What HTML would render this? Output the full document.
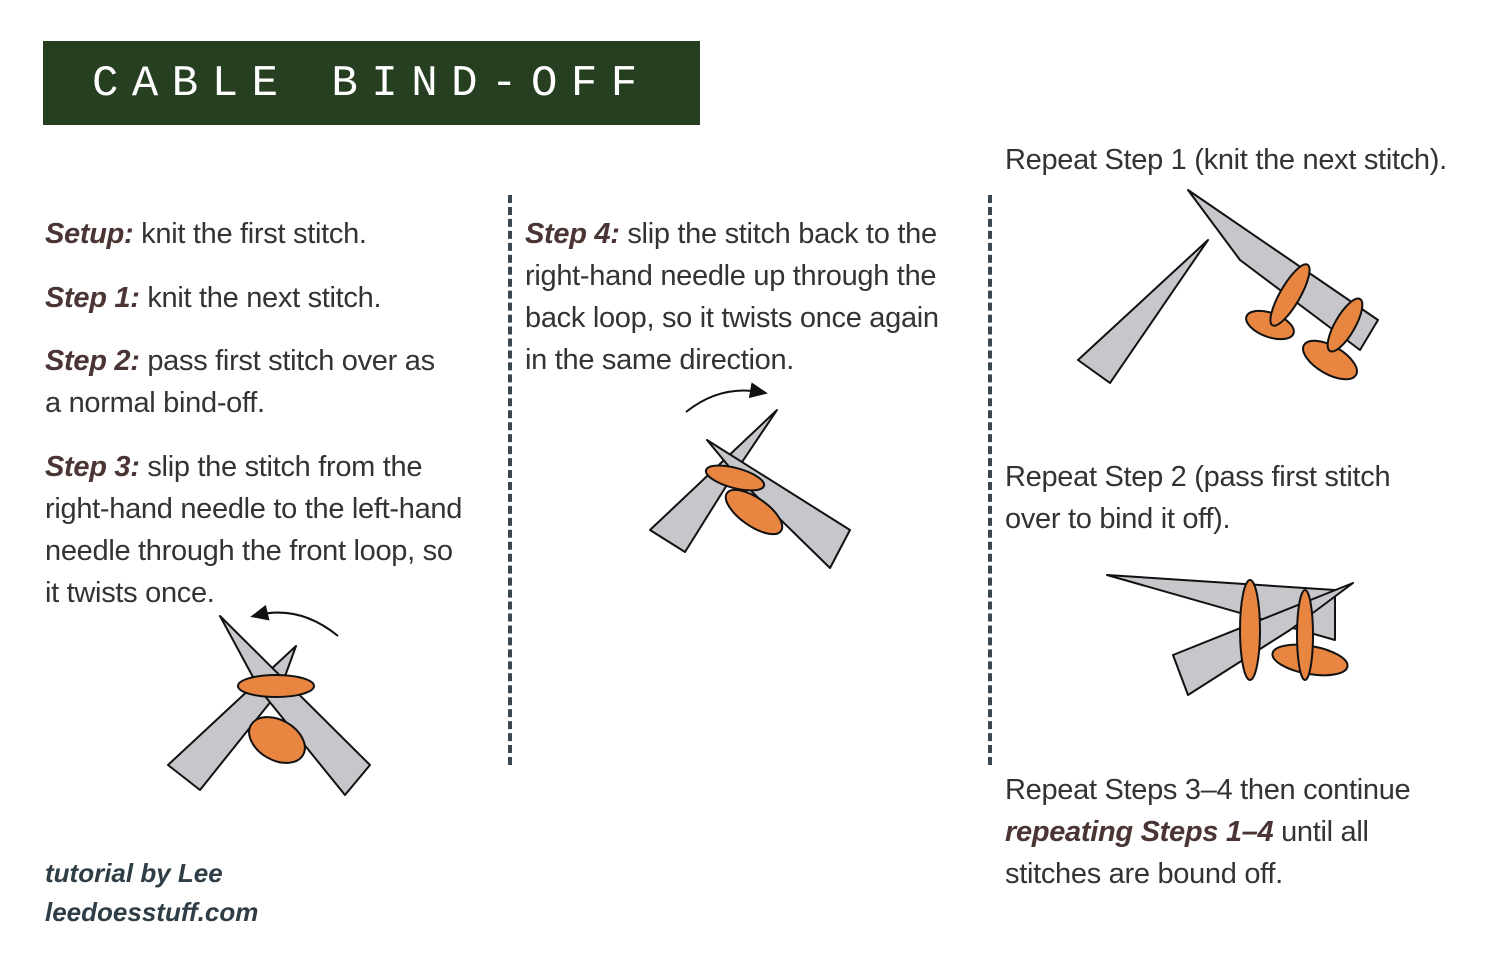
<!DOCTYPE html>
<html><head><meta charset="utf-8"><style>
body{margin:0;width:1500px;height:970px;background:#fff;position:relative;overflow:hidden;font-family:"Liberation Sans",sans-serif;color:#333;}
.t{position:absolute;font-size:29px;line-height:42px;white-space:nowrap;letter-spacing:-0.3px;}
b{color:#4a3434;font-style:italic;}
.title{position:absolute;left:43px;top:41px;width:657px;height:84px;background:#263f20;color:#fff;font-family:"Liberation Mono",monospace;font-size:44px;line-height:86px;white-space:nowrap;}
.title span{position:absolute;left:92px;top:0;letter-spacing:13.5px;}
.dash{position:absolute;width:0;border-left:4px dashed #3a4650;}
.cr{position:absolute;font-family:"Liberation Sans",sans-serif;font-weight:bold;font-style:italic;font-size:26px;color:#2f3d46;line-height:39px;}
</style></head><body>
<div class="title"><span style="left:49px">CABLE BIND-OFF</span></div>
<div class="dash" style="left:508px;top:195px;height:570px"></div>
<div class="dash" style="left:988px;top:195px;height:570px"></div>

<div class="t" style="left:45px;top:213px"><b>Setup:</b> knit the first stitch.</div>
<div class="t" style="left:45px;top:277px"><b>Step 1:</b> knit the next stitch.</div>
<div class="t" style="left:45px;top:340px"><b>Step 2:</b> pass first stitch over as<br>a normal bind-off.</div>
<div class="t" style="left:45px;top:446px"><b>Step 3:</b> slip the stitch from the<br>right-hand needle to the left-hand<br>needle through the front loop, so<br>it twists once.</div>
<div class="t" style="left:525px;top:213px"><b>Step 4:</b> slip the stitch back to the<br>right-hand needle up through the<br>back loop, so it twists once again<br>in the same direction.</div>
<div class="t" style="left:1005px;top:139px">Repeat Step 1 (knit the next stitch).</div>
<div class="t" style="left:1005px;top:456px">Repeat Step 2 (pass first stitch<br>over to bind it off).</div>
<div class="t" style="left:1005px;top:769px">Repeat Steps 3–4 then continue<br><b>repeating Steps 1–4</b> until all<br>stitches are bound off.</div>
<div class="cr" style="left:45px;top:854px">tutorial by Lee<br>leedoesstuff.com</div>

<svg width="1500" height="970" style="position:absolute;left:0;top:0" stroke="#111" stroke-width="2" stroke-linejoin="round">
<defs><marker id="a" markerWidth="10" markerHeight="10" refX="5" refY="5" orient="auto"><path d="M0,1 L9,5 L0,9 Z" fill="#111" stroke="none"/></marker></defs>
<g fill="#c7c6cb">
<polygon points="296,646 168,765 200,790 280,690"/>
<polygon points="220,616 370,765 345,795 260,690"/>
<polygon points="777,410 650,530 685,552 730,480"/>
<polygon points="707,440 850,530 830,568 740,480"/>
<polygon points="1208,240 1078,360 1110,383"/>
<polygon points="1188,190 1378,320 1360,350 1240,260"/>
<polygon points="1107,575 1335,590 1335,640"/>
<polygon points="1353,583 1173,655 1188,695 1290,630"/>
</g>
<g fill="#e88540">
<ellipse cx="277" cy="740" rx="30" ry="20" transform="rotate(30 277 740)"/>
<ellipse cx="276" cy="686" rx="38" ry="11"/>
<ellipse cx="754" cy="512" rx="33" ry="14" transform="rotate(35 754 512)"/>
<ellipse cx="735" cy="478" rx="30" ry="10" transform="rotate(15 735 478)"/>
<ellipse cx="1270" cy="325" rx="25" ry="12" transform="rotate(20 1270 325)"/>
<ellipse cx="1290" cy="295" rx="10" ry="35" transform="rotate(30 1290 295)"/>
<ellipse cx="1330" cy="360" rx="30" ry="14" transform="rotate(30 1330 360)"/>
<ellipse cx="1345" cy="325" rx="10" ry="30" transform="rotate(30 1345 325)"/>
<ellipse cx="1310" cy="660" rx="38" ry="14" transform="rotate(10 1310 660)"/>
<ellipse cx="1305" cy="635" rx="8" ry="45"/>
<ellipse cx="1250" cy="630" rx="10" ry="50"/>
</g>
<path d="M338,636 Q300,605 258,615" fill="none" marker-end="url(#a)"/>
<path d="M686,412 Q720,385 760,392" fill="none" marker-end="url(#a)"/>
</svg>
</body></html>
